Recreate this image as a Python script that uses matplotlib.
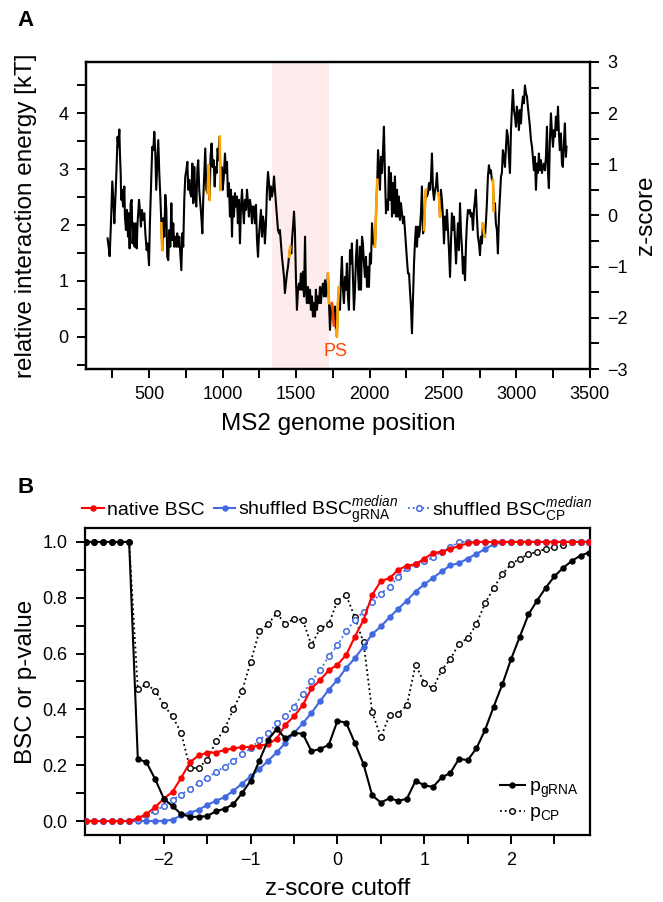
import numpy as np
import matplotlib
matplotlib.use('Agg')
import matplotlib.pyplot as plt
from matplotlib.ticker import MultipleLocator

plt.rcParams['font.family'] = ['Liberation Sans', 'DejaVu Sans']
plt.rcParams['mathtext.fontset'] = 'custom'
plt.rcParams['mathtext.rm'] = 'Liberation Sans'
plt.rcParams['mathtext.it'] = 'Liberation Sans:italic'
plt.rcParams['mathtext.bf'] = 'Liberation Sans:bold'

# ---- panel A: relative interaction energy along the MS2 genome ----
genome_pos = [
    217, 224, 231, 240, 249, 258, 263, 272, 276, 285, 290, 297, 301, 306, 310,
    317, 322, 331, 335, 342, 349, 356, 360, 367, 374, 381, 387, 394, 401, 408,
    415, 421, 431, 437, 444, 451, 458, 467, 474, 483, 490, 499, 505, 512, 521,
    528, 535, 542, 548, 555, 562, 569, 576, 583, 589, 596, 603, 610, 617, 623,
    630, 637, 644, 651, 657, 664, 671, 678, 685, 691, 698, 705, 712, 719, 726,
    732, 739, 746, 753, 760, 766, 773, 780, 787, 794, 800, 807, 814, 821, 828,
    834, 841, 848, 855, 862, 868, 875, 882, 889, 898, 905, 912, 918, 925, 932,
    939, 946, 952, 959, 966, 973, 980, 986, 993, 1000, 1007,
    1016, 1023, 1030, 1036, 1043, 1050, 1057, 1064, 1070, 1077, 1084, 1091,
    1098, 1104, 1111, 1118, 1125, 1132, 1139, 1145, 1152, 1159, 1166, 1173,
    1179, 1186, 1193, 1200, 1207, 1213, 1220, 1227, 1234, 1241, 1247, 1254,
    1261, 1268, 1275, 1281, 1288, 1295, 1302, 1309, 1316, 1322, 1329, 1336,
    1343, 1350, 1356, 1363, 1370, 1377, 1384, 1390, 1397, 1404, 1411, 1418,
    1424, 1431, 1438, 1445, 1452, 1461, 1468, 1474, 1481, 1486, 1492, 1499,
    1506, 1513, 1520, 1527, 1533, 1540, 1547, 1554, 1561, 1567, 1574, 1581,
    1588, 1595, 1601, 1608, 1615, 1622, 1629, 1635, 1642, 1649, 1656, 1663,
    1669, 1676, 1683, 1690, 1697, 1703, 1710, 1717, 1724, 1731, 1738, 1744,
    1751, 1758, 1765, 1772, 1778, 1785, 1792, 1799, 1806, 1812, 1819, 1826,
    1833, 1840, 1846, 1853, 1860, 1867, 1874, 1880, 1887, 1894,
    1901, 1908, 1915, 1921, 1928, 1935, 1942, 1949, 1955, 1962, 1969, 1976,
    1983, 1990, 1996, 2003, 2010, 2017, 2024, 2030, 2037, 2046, 2053, 2058,
    2064, 2071, 2078, 2085, 2092, 2098, 2105, 2112, 2119, 2126, 2132, 2139,
    2146, 2153, 2160, 2166, 2173, 2180, 2187, 2194, 2200, 2207, 2214, 2221,
    2228, 2235, 2241, 2248, 2255, 2262, 2269, 2275, 2282, 2289, 2296, 2303,
    2309, 2316, 2323, 2330, 2337, 2343, 2350, 2357, 2364, 2371, 2378, 2384,
    2391, 2398, 2405, 2412, 2418, 2425, 2432, 2439, 2446, 2452, 2459, 2466,
    2473, 2480, 2486, 2493, 2500, 2507, 2514, 2520, 2527, 2534, 2541, 2548,
    2555, 2561, 2568, 2575, 2582, 2589, 2595, 2602, 2609, 2616, 2623, 2629,
    2636, 2643, 2650, 2657, 2663, 2670, 2677,
    2684, 2690, 2697, 2704, 2711, 2718, 2724, 2731, 2738, 2745, 2752, 2758,
    2765, 2772, 2779, 2786, 2792, 2799, 2806, 2813, 2820, 2826, 2833, 2840,
    2846, 2854, 2860, 2867, 2874, 2881, 2888, 2895, 2901, 2908, 2915, 2922,
    2929, 2935, 2942, 2949, 2956, 2963, 2969, 2976, 2983, 2990, 2997, 3003,
    3010, 3017, 3024, 3031, 3037, 3044, 3051, 3058, 3065, 3072, 3078, 3085,
    3092, 3099, 3106, 3112, 3119, 3126, 3133, 3140, 3146, 3153, 3160, 3167,
    3174, 3180, 3187, 3194, 3201, 3208, 3214, 3221, 3228, 3235, 3242, 3249,
    3255, 3262, 3269, 3276, 3283, 3289, 3296, 3303, 3310, 3316, 3323, 3330,
    3337, 3341,
]
rel_energy = [
    1.76, 1.61, 1.44, 2.03, 2.78, 2.33, 2.03, 2.63, 2.87, 3.58, 3.40, 3.71, 3.28, 2.93, 2.45,
    2.63, 2.33, 2.69, 2.15, 1.91, 2.27, 1.79, 2.21, 1.58, 2.39, 2.45, 1.67, 2.03, 1.61, 2.03,
    1.58, 2.03, 2.45, 2.27, 1.97, 2.27, 2.09, 2.21, 1.85, 1.55, 1.67, 1.28, 2.03, 2.63, 3.40,
    3.34, 3.67, 3.28, 2.63, 3.10, 3.52, 2.93, 2.51, 2.03, 1.55, 2.12, 1.79, 2.54, 2.27, 1.43,
    1.37, 1.91, 1.61, 2.39, 1.73, 2.03, 1.61, 1.79, 1.61, 1.85, 1.61, 1.79, 1.49, 1.19, 1.85,
    1.61, 2.45, 2.87, 2.98, 3.13, 2.63, 2.81, 2.57, 2.51, 3.10, 2.39, 3.04, 2.51, 2.33, 2.98,
    3.16, 2.63, 2.39, 2.15, 1.85, 2.45, 2.93, 3.37, 2.63, 2.57, 3.07, 2.45, 3.22, 3.46, 3.04,
    3.16, 2.69, 3.04, 2.93, 3.37, 3.16, 3.58, 2.63, 3.04, 2.63, 2.81,
    3.28, 2.93, 3.13, 2.51, 2.75, 2.15, 2.63, 1.79, 2.51, 2.15, 2.57, 2.33,
    2.51, 2.03, 2.45, 1.67, 2.33, 2.63, 2.27, 2.03, 2.45, 2.27, 2.63, 2.39,
    2.15, 2.45, 2.33, 2.03, 2.33, 2.33, 2.03, 2.36, 1.73, 1.43, 1.79, 2.03,
    2.27, 1.79, 2.15, 2.03, 1.67, 2.03, 2.63, 2.95, 2.75, 2.45, 2.69, 2.51,
    2.63, 2.87, 2.63, 2.39, 2.15, 1.91, 1.85, 1.91, 1.67, 1.43, 1.25, 1.07,
    0.78, 0.95, 1.13, 1.25, 1.43, 1.61, 1.49, 1.79, 2.03, 2.24, 1.91, 1.07,
    0.48, 0.84, 0.95, 0.84, 1.13, 0.84, 1.16, 0.72, 1.79, 0.84, 0.60, 0.89,
    0.60, 0.84, 0.48, 0.72, 0.36, 0.60, 0.36, 0.84, 0.48, 0.72, 0.60, 0.89,
    0.60, 0.84, 0.95, 0.72, 1.01, 0.72, 0.84, 1.13, 0.60, 0.12, 0.48, 0.60,
    0.42, 0.20, 0.54, 0.12, 0.00, 0.60, 0.89, 0.48, 1.07, 1.43, 0.84, 0.60,
    1.07, 0.84, 1.31, 0.72, 0.48, 1.55, 1.31, 1.67, 1.07, 0.48,
    0.84, 1.43, 1.73, 1.19, 0.84, 1.61, 0.84, 1.79, 1.67, 1.31, 1.07, 1.43,
    0.89, 1.25, 0.89, 1.49, 1.31, 2.03, 1.67, 1.67, 1.61, 2.33, 2.81, 3.34,
    3.04, 2.63, 3.22, 2.93, 3.34, 3.76, 2.93, 2.21, 2.45, 2.27, 3.04, 2.45,
    2.93, 2.15, 2.75, 2.21, 2.87, 2.15, 2.63, 2.15, 2.51, 2.09, 2.39, 2.21,
    2.03, 2.15, 1.91, 1.61, 1.37, 1.13, 1.13, 0.84, 0.54, 0.06, 0.72, 1.31,
    1.67, 1.97, 1.61, 1.97, 1.79, 1.91, 2.21, 2.69, 1.85, 1.91, 2.39, 2.63,
    2.51, 2.57, 2.75, 2.63, 2.81, 3.28, 2.63, 2.45, 2.63, 2.69, 2.93, 2.57,
    2.51, 2.15, 2.63, 2.45, 2.15, 1.67, 2.15, 1.91, 2.27, 1.91, 1.55, 1.07,
    1.73, 2.21, 1.91, 2.15, 1.73, 1.31, 1.67, 2.03, 1.55, 2.39, 1.85, 1.61,
    1.13, 1.43, 1.01, 1.67, 2.03, 2.27, 2.21,
    2.27, 2.15, 2.21, 1.91, 2.27, 2.45, 2.63, 2.15, 1.79, 1.67, 1.46, 1.79,
    1.67, 2.03, 1.85, 1.79, 2.03, 2.39, 2.87, 3.07, 2.93, 2.98, 2.81, 2.81,
    2.25, 2.39, 2.03, 1.91, 1.49, 2.15, 2.51, 2.87, 2.93, 3.34, 3.22, 3.04,
    3.40, 3.70, 3.58, 3.22, 2.93, 3.70, 4.06, 4.42, 4.06, 3.94, 3.76, 4.12,
    4.00, 3.70, 4.06, 3.82, 4.12, 4.30, 4.18, 4.50, 4.36, 4.30, 4.12, 3.94,
    3.76, 3.52, 3.40, 3.22, 2.98, 3.22, 2.63, 3.10, 2.93, 3.28, 2.98, 3.16,
    2.93, 3.04, 3.10, 2.98, 3.22, 3.76, 2.98, 2.66, 3.52, 4.00, 3.64, 3.40,
    3.70, 3.58, 3.94, 3.70, 4.12, 3.64, 3.34, 3.64, 3.10, 3.04, 3.46, 3.82,
    3.22, 3.40,
]
# stretches drawn in orange, and the packaging signal stretch in red
orange_ranges = [(583, 589), (898, 912), (980, 986), (1452, 1461), (1717, 1724),
                 (1772, 1792), (2037, 2053), (2371, 2384), (2466, 2480),
                 (2772, 2786), (2840, 2846)]
ps_range = (1744, 1758)
shaded_region = (1335, 1725)

# ---- panel B: BSC / p-value versus z-score cutoff ----
z_cutoff = [-2.9, -2.8, -2.7, -2.6, -2.5, -2.4, -2.3, -2.2, -2.1, -2.0,
            -1.9, -1.8, -1.7, -1.6, -1.5, -1.4, -1.3, -1.2, -1.1, -1.0,
            -0.9, -0.8, -0.7, -0.6, -0.5, -0.4, -0.3, -0.2, -0.1, 0.0,
            0.1, 0.2, 0.3, 0.4, 0.5, 0.6, 0.7, 0.8, 0.9, 1.0,
            1.1, 1.2, 1.3, 1.4, 1.5, 1.6, 1.7, 1.8, 1.9, 2.0,
            2.1, 2.2, 2.3, 2.4, 2.5, 2.6, 2.7, 2.8, 2.9]
bsc_native = [0, 0, 0, 0, 0, 0, 0.01, 0.025, 0.05, 0.08,
              0.105, 0.155, 0.21, 0.235, 0.245, 0.245, 0.255, 0.26, 0.265, 0.265,
              0.27, 0.275, 0.295, 0.345, 0.375, 0.415, 0.475, 0.505, 0.54, 0.56,
              0.595, 0.66, 0.72, 0.81, 0.86, 0.87, 0.90, 0.915, 0.92, 0.94,
              0.96, 0.965, 0.975, 0.985, 0.995, 1, 1, 1, 1, 1,
              1, 1, 1, 1, 1, 1, 1, 1, 1]
bsc_shuf_grna = [0, 0, 0, 0, 0, 0, 0, 0, 0, 0,
                 0.005, 0.02, 0.03, 0.04, 0.058, 0.072, 0.086, 0.108, 0.134, 0.16,
                 0.186, 0.215, 0.246, 0.28, 0.315, 0.35, 0.387, 0.43, 0.47, 0.506,
                 0.548, 0.583, 0.625, 0.67, 0.697, 0.73, 0.76, 0.79, 0.822, 0.848,
                 0.871, 0.894, 0.916, 0.924, 0.94, 0.957, 0.974, 0.992, 0.998, 1,
                 1, 1, 1, 1, 1, 1, 1, 1, 1]
bsc_shuf_cp = [0, 0, 0, 0, 0, 0, 0.005, 0.02, 0.035, 0.055,
               0.075, 0.095, 0.115, 0.135, 0.155, 0.175, 0.195, 0.215, 0.24, 0.26,
               0.29, 0.315, 0.35, 0.375, 0.41, 0.455, 0.50, 0.54, 0.59, 0.63,
               0.68, 0.72, 0.75, 0.785, 0.815, 0.84, 0.875, 0.905, 0.92, 0.93,
               0.945, 0.965, 0.98, 1, 1, 1, 1, 1, 1, 1,
               1, 1, 1, 1, 1, 1, 1, 1, 1]
p_grna = [1, 1, 1, 1, 1, 1, 0.223, 0.21, 0.15, 0.08,
          0.053, 0.025, 0.015, 0.015, 0.018, 0.035, 0.044, 0.06, 0.10, 0.144,
          0.216, 0.29, 0.33, 0.296, 0.315, 0.313, 0.25, 0.258, 0.273, 0.359,
          0.352, 0.28, 0.204, 0.092, 0.066, 0.082, 0.072, 0.08, 0.144, 0.128,
          0.122, 0.156, 0.172, 0.223, 0.218, 0.26, 0.326, 0.41, 0.49, 0.58,
          0.66, 0.74, 0.79, 0.836, 0.877, 0.907, 0.932, 0.951, 0.962]
p_cp = [1, 1, 1, 1, 1, 1, 0.473, 0.49, 0.467, 0.415,
        0.375, 0.315, 0.19, 0.19, 0.22, 0.285, 0.33, 0.40, 0.465, 0.57,
        0.68, 0.705, 0.745, 0.705, 0.725, 0.72, 0.63, 0.69, 0.705, 0.79,
        0.81, 0.73, 0.64, 0.39, 0.30, 0.38, 0.385, 0.415, 0.56, 0.495,
        0.475, 0.54, 0.58, 0.635, 0.655, 0.705, 0.78, 0.835, 0.885, 0.92,
        0.94, 0.955, 0.965, 0.975, 0.98, 0.99, 1, 1, 1]


def style_axis(ax):
    for sp in ax.spines.values():
        sp.set_linewidth(1.6)
    ax.tick_params(which='both', direction='out', length=6.5, width=1.4,
                   labelsize=13, pad=6)


fig = plt.figure(figsize=(6.63, 9.02), dpi=100)

# ---------------- panel A ----------------
axA = fig.add_axes([0.1297, 0.5909, 0.760, 0.3404])
pos = np.array(genome_pos)
energy = np.array(rel_energy)

axA.axvspan(*shaded_region, color='#fdeceb', lw=0, zorder=0)
axA.plot(pos, energy, color='black', lw=1.5, zorder=2)
for lo, hi in orange_ranges:
    sel = (pos >= lo) & (pos <= hi)
    axA.plot(pos[sel], energy[sel], color='orange', lw=1.9, zorder=3)
sel = (pos >= ps_range[0]) & (pos <= ps_range[1])
axA.plot(pos[sel], energy[sel], color='orangered', lw=1.9, zorder=3)
axA.text(1770, -0.27, 'PS', color='orangered', fontsize=13,
         ha='center', va='center')

axA.set_xlim(70, 3500)
axA.set_ylim(-0.58, 4.92)
axA.xaxis.set_major_locator(MultipleLocator(500))
axA.xaxis.set_minor_locator(MultipleLocator(250))
axA.yaxis.set_major_locator(MultipleLocator(1))
axA.yaxis.set_minor_locator(MultipleLocator(0.5))
style_axis(axA)
axA.set_xlabel('MS2 genome position', fontsize=17.5)
axA.xaxis.set_label_coords(0.5, -0.143)
axA.set_ylabel('relative interaction energy [kT]', fontsize=17.5)
axA.yaxis.set_label_coords(-0.097, 0.5)

axZ = axA.twinx()
axZ.set_ylim(-3, 3)
axZ.yaxis.set_major_locator(MultipleLocator(1))
axZ.yaxis.set_minor_locator(MultipleLocator(0.5))
style_axis(axZ)
axZ.set_ylabel('z-score', fontsize=17.5)
axZ.yaxis.set_label_coords(1.09, 0.5)

fig.text(0.038, 0.977, 'A', fontsize=16, fontweight='bold', ha='center', va='center')

# ---------------- panel B ----------------
axB = fig.add_axes([0.128, 0.0743, 0.762, 0.3404])
blue = 'royalblue'
h1, = axB.plot(z_cutoff, bsc_native, '-o', color='red', lw=1.5, ms=3.6,
               label='native BSC', zorder=4)
h2, = axB.plot(z_cutoff, bsc_shuf_grna, '-o', color=blue, lw=1.5, ms=3.6,
               label=r'shuffled BSC$_{\mathrm{gRNA}}^{median}$', zorder=3)
h3, = axB.plot(z_cutoff, bsc_shuf_cp, ':o', color=blue, lw=1.3, ms=4,
               mfc='white', mew=1.1,
               label=r'shuffled BSC$_{\mathrm{CP}}^{median}$', zorder=3)
h4, = axB.plot(z_cutoff, p_grna, '-o', color='black', lw=1.5, ms=3.6,
               label=r'p$_{\mathrm{gRNA}}$', zorder=5)
h5, = axB.plot(z_cutoff, p_cp, ':o', color='black', lw=1.3, ms=4,
               mfc='white', mew=1.0, label=r'p$_{\mathrm{CP}}$', zorder=2)

axB.set_xlim(-2.91, 2.91)
axB.set_ylim(-0.05, 1.05)
axB.xaxis.set_major_locator(MultipleLocator(1))
axB.xaxis.set_minor_locator(MultipleLocator(0.5))
axB.yaxis.set_major_locator(MultipleLocator(0.2))
axB.yaxis.set_minor_locator(MultipleLocator(0.1))
axB.yaxis.set_major_formatter(plt.FormatStrFormatter('%.1f'))
style_axis(axB)
axB.set_xlabel('z-score cutoff', fontsize=17.5)
axB.xaxis.set_label_coords(0.5, -0.140)
axB.set_ylabel('BSC or p-value', fontsize=17.5)
axB.yaxis.set_label_coords(-0.095, 0.5)

leg_top = axB.legend(handles=[h1, h2, h3], loc='lower center',
                     bbox_to_anchor=(0.5, 0.965), ncol=3, frameon=False,
                     fontsize=14, handlelength=1.1, handletextpad=0.15,
                     columnspacing=0.5, borderaxespad=0.2, numpoints=1)
axB.add_artist(leg_top)
axB.legend(handles=[h4, h5], loc='lower right', frameon=False, fontsize=14,
           handlelength=1.3, handletextpad=0.2, labelspacing=0.2,
           borderaxespad=0.2, numpoints=1)

fig.text(0.038, 0.46, 'B', fontsize=16, fontweight='bold', ha='center', va='center')

fig.savefig('out.png', dpi=100)
